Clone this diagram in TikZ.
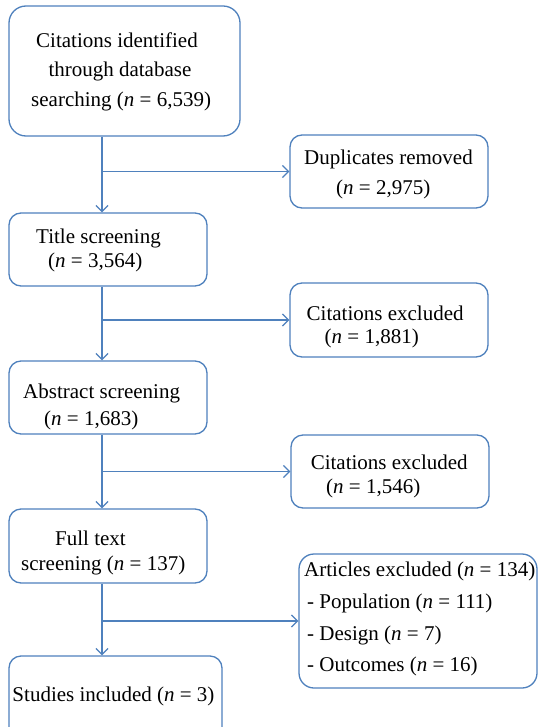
\documentclass[tikz,border=0pt]{standalone}
\usepackage{fontspec}
\setmainfont{Liberation Serif}
\usetikzlibrary{arrows.meta}
\definecolor{boxblue}{RGB}{79,129,189}
\begin{document}
\begin{tikzpicture}[x=1pt,y=-1pt,
  box/.style={draw=boxblue, line width=1.3pt, rounded corners=12pt, inner sep=0pt},
  txt/.style={inner sep=0pt, anchor=base west, font=\fontsize{21pt}{25pt}\selectfont},
  arr/.style={draw=boxblue, line width=1.3pt, -{Straight Barb[length=6pt,width=12pt]}}]
\useasboundingbox (0,0) rectangle (538,727);
\clip (0,0) rectangle (538,727);
\fill[white] (0,0) rectangle (538,727);
% boxes
\node[box, rounded corners=17pt, minimum width=231pt, minimum height=130pt] (b1) at (124.5,71) {};
\node[box, minimum width=198pt, minimum height=73pt] (dup) at (389,171.5) {};
\node[box, minimum width=198pt, minimum height=73pt] (title) at (108,249.5) {};
\node[box, minimum width=198pt, minimum height=74pt] (ce1) at (389,320) {};
\node[box, minimum width=198pt, minimum height=73pt] (abs) at (108,397.5) {};
\node[box, minimum width=198pt, minimum height=73pt] (ce2) at (390,471.5) {};
\node[box, minimum width=198pt, minimum height=74pt] (full) at (108,546) {};
\node[box, rounded corners=15pt, minimum width=238pt, minimum height=134pt] (art) at (418,621) {};
\node[box, minimum width=213pt, minimum height=110pt] (stud) at (115.5,711) {};
% texts
\node[txt] (b1a) at (36,47.7) {Citations identified};
\node[txt] (b1b) at (48.3,77) {through database};
\node[txt] (b1c) at (31,106.7) {searching (\textit{n} = 6,539)};
\node[txt] (dupa) at (304,165) {Duplicates removed};
\node[txt] (dupb) at (336,195) {(\textit{n} = 2,975)};
\node[txt] (titlea) at (36,243.7) {Title screening};
\node[txt] (titleb) at (48,267.7) {(\textit{n} = 3,564)};
\node[txt] (ce1a) at (306.5,320) {Citations excluded};
\node[txt] (ce1b) at (324.5,343) {(\textit{n} = 1,881)};
\node[txt] (absa) at (23,398.8) {Abstract screening};
\node[txt] (absb) at (44,425.6) {(\textit{n} = 1,683)};
\node[txt] (ce2a) at (310.6,469.8) {Citations excluded};
\node[txt] (ce2b) at (326,493.8) {(\textit{n} = 1,546)};
\node[txt] (fulla) at (55,545) {Full text};
\node[txt] (fullb) at (21,570) {screening (\textit{n} = 137)};
\node[txt] (arta) at (304,576) {Articles excluded (\textit{n} = 134)};
\node[txt] (artb) at (307,608) {- Population (\textit{n} = 111)};
\node[txt] (artc) at (307,640) {- Design (\textit{n} = 7)};
\node[txt] (artd) at (307,671.7) {- Outcomes (\textit{n} = 16)};
\node[txt] (studa) at (12.3,701) {Studies included (\textit{n} = 3)};
% connectors
\coordinate (cx) at (102,0);
\draw[arr] (cx |- b1.south) -- (cx |- title.north);
\draw[arr] (cx |- dup.west) -- (dup.west);
\draw[arr] (cx |- title.south) -- (cx |- abs.north);
\draw[arr] (cx |- ce1.west) -- (ce1.west);
\draw[arr] (cx |- abs.south) -- (cx |- full.north);
\draw[arr] (cx |- ce2.west) -- (ce2.west);
\draw[arr] (cx |- full.south) -- (cx |- stud.north);
\draw[arr] (cx |- art.west) -- (art.west);
\end{tikzpicture}
\end{document}
